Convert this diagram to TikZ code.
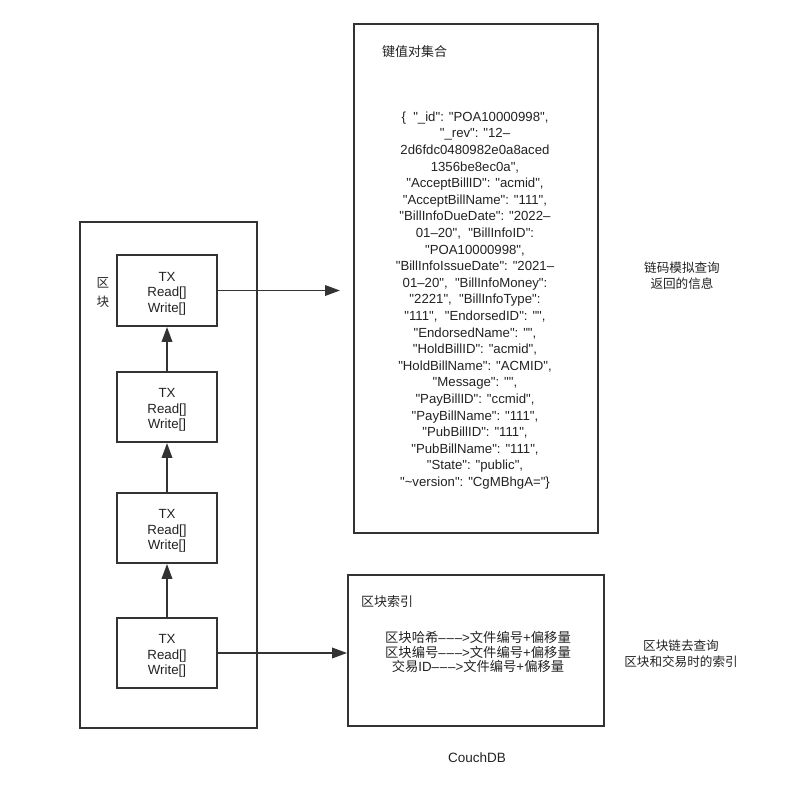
\documentclass[tikz,border=0pt]{standalone}
\usepackage{fontspec}
\setmainfont{Liberation Sans}[Ligatures=TeXOff]
\newfontfamily\cjk{Noto Sans CJK SC}
\usetikzlibrary{arrows.meta}
\definecolor{linec}{HTML}{333333}
\definecolor{textc}{HTML}{222222}
\tikzset{
  box/.style={draw=linec, line width=1.9pt, rectangle, inner sep=0pt},
  txtext/.style={inner sep=0pt, align=center, yshift=-3pt,
    font=\fontsize{13.3}{15.5}\selectfont, text=textc},
  txbox/.style={box, minimum width=100pt, minimum height=70pt,
    label={[txtext]center:TX\\Read[]\\Write[]}},
  lbl/.style={inner sep=0pt, text=textc, font=\fontsize{12.6}{16}\selectfont\cjk, align=center},
  conn/.style={draw=linec, line width=1.9pt, -{Triangle[length=15pt,width=10.5pt]}}
}
\begin{document}
\begin{tikzpicture}[x=1pt,y=-1pt]
\useasboundingbox (0,0) rectangle (786,801);
% outer block
\node[box, minimum width=177pt, minimum height=506pt] (blk) at (168.5,475) {};
\node[lbl, font=\fontsize{12.6}{19}\selectfont\cjk] (blklbl) at (103,292.5) {区\\块};
% tx boxes
\node[txbox, minimum height=71pt] (tx1) at (167,290.5) {};
\node[txbox] (tx2) at (167,407) {};
\node[txbox] (tx3) at (167,528) {};
\node[txbox] (tx4) at (167,653) {};
% key value box
\node[box, minimum width=244pt, minimum height=509pt] (kv) at (476,278.5) {};
\node[lbl, anchor=west, font=\fontsize{13}{16}\selectfont\cjk] (kvt) at (382,52) {键值对集合};
\node[inner sep=0pt, text=textc, align=center, font=\fontsize{13.2}{16.6}\selectfont] (json) at (475,300.5) {%
\{\ \ "\_id": "POA10000998",\\
"\_rev": "12\textendash\\
2d6fdc0480982e0a8aced\\
1356be8ec0a",\\
"AcceptBillID": "acmid",\\
"AcceptBillName": "111",\\
"BillInfoDueDate": "2022\textendash\\
01\textendash20",\ \ "BillInfoID":\\
"POA10000998",\\
"BillInfoIssueDate": "2021\textendash\\
01\textendash20",\ \ "BillInfoMoney":\\
"2221",\ \ "BillInfoType":\\
"111",\ \ "EndorsedID": "",\\
"EndorsedName": "",\\
"HoldBillID": "acmid",\\
"HoldBillName": "ACMID",\\
"Message": "",\\
"PayBillID": "ccmid",\\
"PayBillName": "111",\\
"PubBillID": "111",\\
"PubBillName": "111",\\
"State": "public",\\
"\textasciitilde version": "CgMBhgA="\}};
% index box
\node[box, minimum width=256pt, minimum height=151pt] (idx) at (476,650.5) {};
\node[lbl, anchor=west, font=\fontsize{13}{16}\selectfont\cjk] (idxt) at (361,602) {区块索引};
\node[inner sep=0pt, text=textc, align=center, font=\fontsize{13.3}{14.6}\selectfont] (idxl) at (478,652) {%
{\cjk 区块哈希}\textendash\kern0.8pt\textendash\kern0.8pt\textendash>{\cjk 文件编号}+{\cjk 偏移量}\\
{\cjk 区块编号}\textendash\kern0.8pt\textendash\kern0.8pt\textendash>{\cjk 文件编号}+{\cjk 偏移量}\\
{\cjk 交易}ID\textendash\kern0.8pt\textendash\kern0.8pt\textendash>{\cjk 文件编号}+{\cjk 偏移量}};
% side labels
\node[lbl] (side1) at (682,276) {链码模拟查询\\返回的信息};
\node[lbl] (side2) at (681,653.5) {区块链去查询\\区块和交易时的索引};
\node[inner sep=0pt, text=textc, font=\fontsize{13.5}{14}\selectfont] (couch) at (477,758) {CouchDB};
% connectors
\coordinate (kvin) at (340,291);
\draw[conn] (tx4.north) -- (tx3.south);
\draw[conn] (tx3.north) -- (tx2.south);
\draw[conn] (tx2.north) -- (tx1.south);
\draw[conn] (tx1.east) -- (tx1.east -| kvin);
\draw[conn] (tx4.east) -- (tx4.east -| idx.west);
\end{tikzpicture}
\end{document}
